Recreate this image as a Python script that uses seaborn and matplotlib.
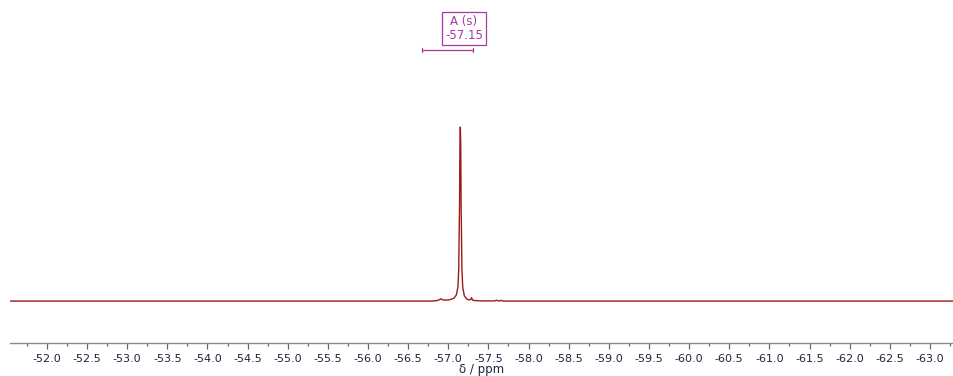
import matplotlib
matplotlib.use("Agg")
import matplotlib.pyplot as plt
import seaborn as sns
import pandas as pd
from matplotlib.ticker import MultipleLocator, FormatStrFormatter

# 19F spectrum, chemical shift (ppm) and relative intensity
shift_ppm = [-51.54, -56.80, -56.86, -56.89, -56.91, -56.93, -56.96, -57.02, -57.07,
             -57.10, -57.12, -57.13, -57.14, -57.145, -57.15, -57.155, -57.16, -57.17,
             -57.18, -57.20, -57.23, -57.26, -57.28, -57.29, -57.30, -57.33, -57.40,
             -57.58, -57.60, -57.62, -57.64, -57.66, -57.68, -63.30]
intensity = [0.0, 0.0, 0.3, 0.8, 1.3, 0.7, 0.5, 0.8, 1.6,
             3.5, 8.0, 18.0, 55.0, 90.0, 100.0, 90.0, 55.0, 18.0,
             8.0, 3.0, 1.2, 0.6, 1.0, 2.0, 0.6, 0.3, 0.1,
             0.1, 0.5, 0.1, 0.1, 0.4, 0.0, 0.0]

# multiplet annotation
mult_label = "A (s)"
mult_shift = -57.15
integral_range = (-56.67, -57.31)

spectrum = pd.DataFrame({"ppm": shift_ppm, "I": intensity})

sns.set_style("white")
plt.rcParams["font.family"] = ["DejaVu Sans"]

fig = plt.figure(figsize=(9.54, 3.76), dpi=100)
ax = fig.add_axes([10 / 954, 33 / 376, 944 / 954, 343 / 376])

sns.lineplot(data=spectrum, x="ppm", y="I", ax=ax, color="#9b1c1c",
             linewidth=1.0, estimator=None, sort=False)

ax.set_xlim(-51.54, -63.30)
ax.set_ylim(-24.1, 173.0)

purple = "#a43aa4"
# integration bar with end caps
ax.plot(list(integral_range), [144.3, 144.3], color=purple, lw=0.9)
for xe in integral_range:
    ax.plot([xe, xe], [143.0, 145.6], color=purple, lw=0.9)

ax.text(-57.195, 156.5, f"{mult_label}\n{mult_shift:.2f}", ha="center", va="center",
        fontsize=8.5, color=purple, linespacing=1.15,
        bbox=dict(boxstyle="square,pad=0.25", fc="white", ec=purple, lw=0.9))

for s in ("top", "left", "right"):
    ax.spines[s].set_visible(False)
ax.spines["bottom"].set_color("#8a8a8a")
ax.spines["bottom"].set_linewidth(1.0)

ax.xaxis.set_major_locator(MultipleLocator(0.5))
ax.xaxis.set_minor_locator(MultipleLocator(0.25))
ax.xaxis.set_major_formatter(FormatStrFormatter("%.1f"))
ax.tick_params(axis="x", which="major", length=4, width=0.9, color="#6a6a6a",
               labelsize=8, labelcolor="#1e2340", pad=4, direction="out", bottom=True)
ax.tick_params(axis="x", which="minor", length=2, width=0.9, color="#6a6a6a",
               direction="out", bottom=True)
ax.set_yticks([])
ax.set_ylabel("")
ax.set_xlabel("δ / ppm", fontsize=8.5, color="#1e2340", labelpad=-1)

fig.savefig("out.png", dpi=100)
